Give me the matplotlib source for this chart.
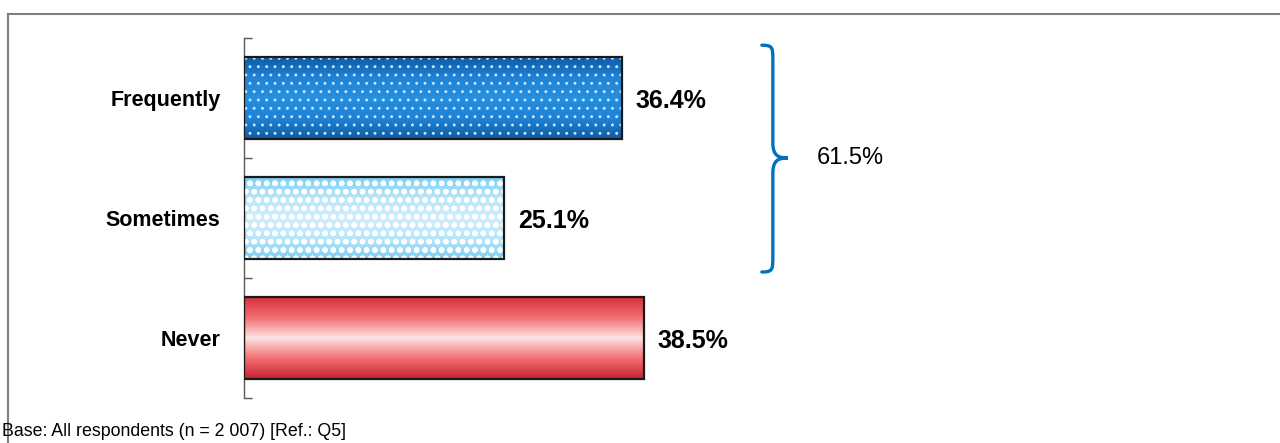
import matplotlib
matplotlib.use("Agg")
import matplotlib.pyplot as plt
import matplotlib.patches as patches
from matplotlib.path import Path
from matplotlib.colors import LinearSegmentedColormap
import numpy as np

# data
categories = ["Frequently", "Sometimes", "Never"]
values = [36.4, 25.1, 38.5]
brace_total = "61.5%"
footer = "Base: All respondents (n = 2 007) [Ref.: Q5]"

plt.rcParams['font.family'] = ['Liberation Sans', 'DejaVu Sans']

fig = plt.figure(figsize=(12.8, 4.43), dpi=100)
ax = fig.add_axes([244 / 1280, 45 / 443, 1017 / 1280, 360 / 443])

bar_h = 0.68
ys = np.arange(len(categories))

# bevel-like vertical gradients per bar
grads = [
    ["#0f5da6", "#1f82d6", "#2590e0", "#1f82d6", "#0f5da6"],
    ["#7fcff3", "#b9e6fa", "#cdeefc", "#b9e6fa", "#7fcff3"],
    ["#d8323c", "#f26f73", "#fde2e2", "#f26f73", "#c82430"],
]
hatches = [("..", "#cfe6fb", 0.9), ("oo", "#ffffff", 1.6), (None, None, 0)]

for i, (y, v) in enumerate(zip(ys, values)):
    rect = ax.barh(y, v, height=bar_h, color="none", edgecolor="#1a1a1a",
                   linewidth=1.6, zorder=4)[0]
    cmap = LinearSegmentedColormap.from_list(f"g{i}", grads[i])
    img = ax.imshow(np.linspace(0, 1, 100).reshape(-1, 1), cmap=cmap,
                    aspect="auto", extent=(0, v, y + bar_h / 2, y - bar_h / 2),
                    zorder=2)
    img.set_clip_path(rect)
    h, hc, hlw = hatches[i]
    if h:
        plt.rcParams['hatch.linewidth'] = hlw
        ax.barh(y, v, height=bar_h, color="none", edgecolor=hc, hatch=h,
                linewidth=0, zorder=3)
    ax.annotate(f"{v:.1f}%", xy=(v, y), xytext=(10, -2),
                textcoords="offset points", va="center", ha="left",
                fontsize=18, fontweight="bold", color="black")

ax.set_xlim(0, 98)
ax.set_ylim(len(categories) - 0.5, -0.5)

for s in ["top", "right", "bottom"]:
    ax.spines[s].set_visible(False)
ax.spines["left"].set_color("#595959")
ax.spines["left"].set_linewidth(1.0)
ax.set_xticks([])
ax.set_yticks(ys)
ax.set_yticklabels(categories, fontsize=15.5, fontweight="bold")
ax.tick_params(axis="y", which="major", length=0, pad=17)
ax.set_yticks(np.arange(-0.5, len(categories)), minor=True)
ax.tick_params(axis="y", which="minor", length=6, direction="in",
               color="#595959", width=1.0)

# curly brace over Frequently + Sometimes
x0 = 49.9
xv = x0 + 1.06
xt = x0 + 2.5
top = ys[0] - 0.44
bot = ys[1] + 0.45
mid = (ys[0] + ys[1]) / 2
c = 0.13
verts = [
    (x0, top),
    (xv, top), (xv, top + 0.02), (xv, top + c),
    (xv, mid - c),
    (xv, mid - 0.02), (xv + 0.5, mid), (xt, mid),
    (xv + 0.5, mid), (xv, mid + 0.02), (xv, mid + c),
    (xv, bot - c),
    (xv, bot - 0.02), (xv, bot), (x0, bot),
]
codes = [Path.MOVETO,
         Path.CURVE4, Path.CURVE4, Path.CURVE4,
         Path.LINETO,
         Path.CURVE4, Path.CURVE4, Path.CURVE4,
         Path.CURVE4, Path.CURVE4, Path.CURVE4,
         Path.LINETO,
         Path.CURVE4, Path.CURVE4, Path.CURVE4]
ax.add_patch(patches.PathPatch(Path(verts, codes), facecolor="none",
                               edgecolor="#0070C0", linewidth=2.4,
                               capstyle="round", clip_on=False))
ax.text(55.2, mid, brace_total, fontsize=17, va="center", ha="left")

# outer frame
fig.add_artist(plt.Line2D([8 / 1280, 8 / 1280], [0, 1 - 14 / 443],
                          color="#7f7f7f", linewidth=1.5))
fig.add_artist(plt.Line2D([8 / 1280, 1], [1 - 14 / 443, 1 - 14 / 443],
                          color="#7f7f7f", linewidth=1.5))

fig.text(2 / 1280, 1 - 431 / 443, footer, fontsize=12.8, va="center", ha="left")

fig.savefig("out.png", dpi=100)
